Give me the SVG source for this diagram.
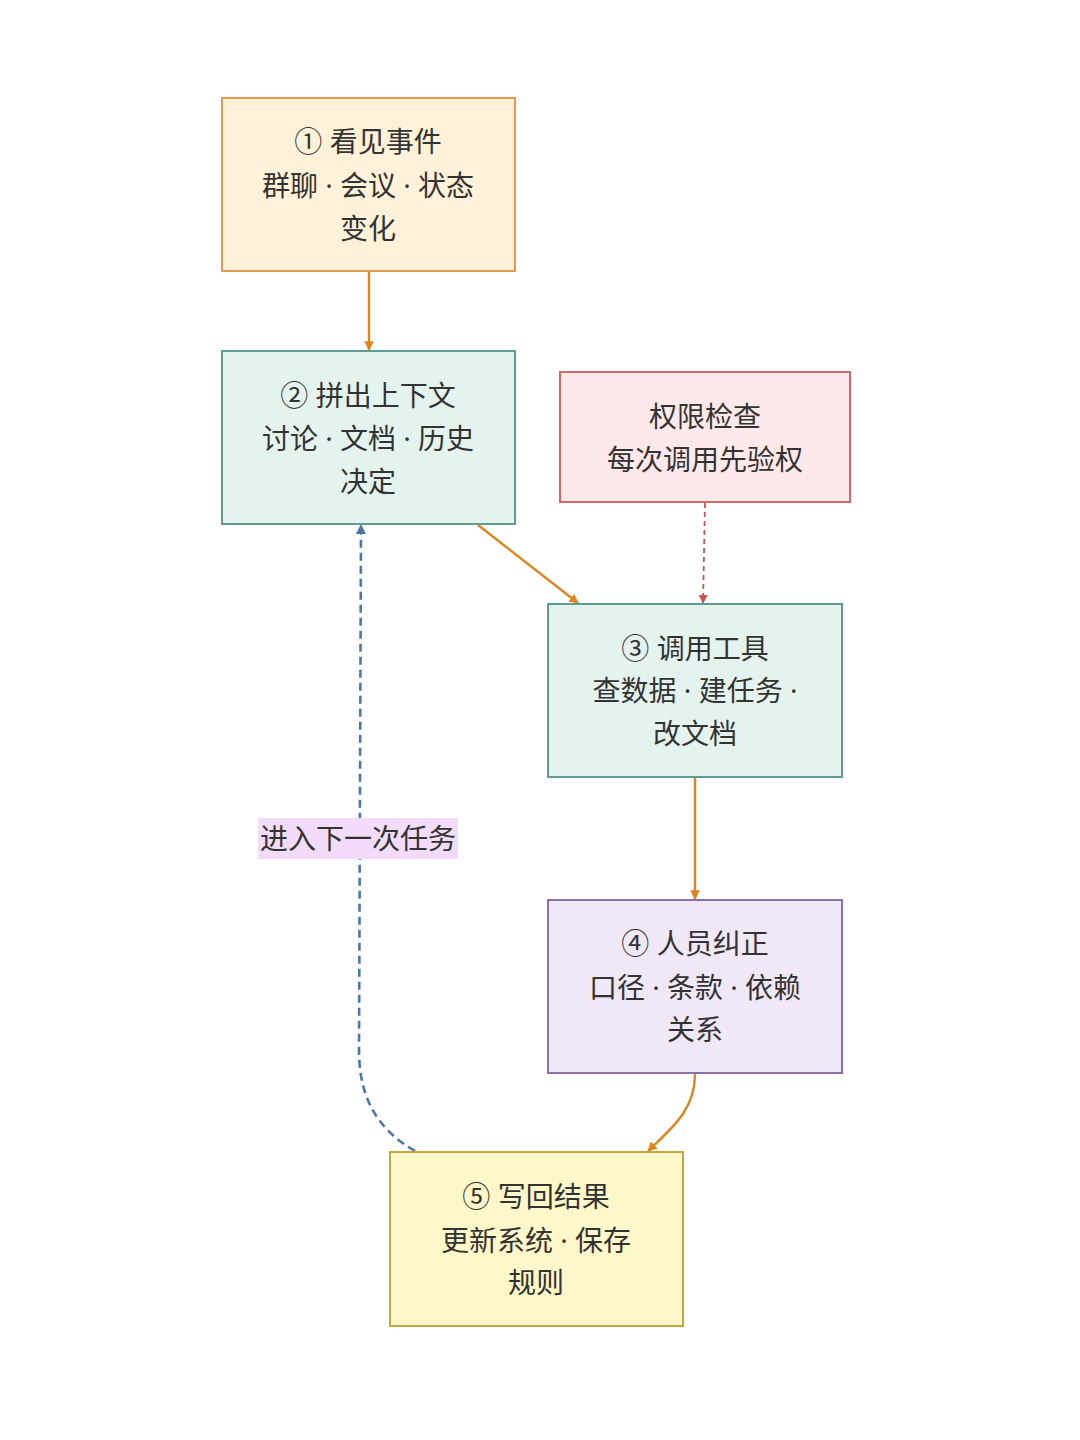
<svg xmlns="http://www.w3.org/2000/svg" width="1080" height="1440" viewBox="0 0 1080 1440">
<style>
text{font-family:"Noto Sans","Noto Sans CJK SC",sans-serif;font-size:28px;fill:#333;text-anchor:middle;dominant-baseline:central}
.box{stroke-width:2}
.orange{fill:#fff2d9;stroke:#e39a4c}
.teal{fill:#e5f3ef;stroke:#5f9c92}
.red{fill:#fde9e9;stroke:#cf6a6a}
.purple{fill:#f0e8f7;stroke:#8e6fa8}
.yellow{fill:#fef7c9;stroke:#c2a742}
.c{fill:none;stroke-width:2.4}
.co{stroke:#e0841c}
.cr{stroke:#c95656;stroke-dasharray:5 4;stroke-width:1.8}
.cb{stroke:#4e76a8;stroke-dasharray:8 5;stroke-width:2.6}
</style>
<defs>
<marker id="ao" viewBox="0 0 10 10" refX="9" refY="5" markerWidth="4" markerHeight="4" orient="auto"><path d="M0,0 L10,5 L0,10 z" fill="#e0841c"/></marker>
<marker id="ar" viewBox="0 0 10 10" refX="9" refY="5" markerWidth="5" markerHeight="5" orient="auto"><path d="M0,0 L10,5 L0,10 z" fill="#c95656"/></marker>
<marker id="ab" viewBox="0 0 10 10" refX="9" refY="5" markerWidth="4" markerHeight="4" orient="auto"><path d="M0,0 L10,5 L0,10 z" fill="#4e76a8"/></marker>
</defs>
<rect width="1080" height="1440" fill="#fff"/>
<g id="connectors">
<path class="c co" d="M369,272 L369,350" marker-end="url(#ao)"/>
<path class="c co" d="M478,525 L578,603" marker-end="url(#ao)"/>
<path class="c cr" d="M705,503 L703,603" marker-end="url(#ar)"/>
<path class="c co" d="M695,778 L695,899" marker-end="url(#ao)"/>
<path class="c co" d="M695,1074 C695,1110 672,1128 648,1151" marker-end="url(#ao)"/>
<path class="c cb" d="M415,1151 C375,1128 359,1095 359,1050 L361,525" marker-end="url(#ab)"/>
<g id="edge-label">
<rect x="258" y="818" width="200" height="41" fill="#f3dcf9"/>
<text x="358" y="838">进入下一次任务</text>
</g>
</g>
<g id="n1"><rect class="box orange" x="222" y="98" width="293" height="173"/>
<text x="368" y="141">① 看见事件</text><text x="368" y="185">群聊 · 会议 · 状态</text><text x="368" y="228">变化</text></g>
<g id="n2"><rect class="box teal" x="222" y="351" width="293" height="173"/>
<text x="368" y="395">② 拼出上下文</text><text x="368" y="438">讨论 · 文档 · 历史</text><text x="368" y="481">决定</text></g>
<g id="perm"><rect class="box red" x="560" y="372" width="290" height="130"/>
<text x="705" y="416">权限检查</text><text x="705" y="459">每次调用先验权</text></g>
<g id="n3"><rect class="box teal" x="548" y="604" width="294" height="173"/>
<text x="695" y="648">③ 调用工具</text><text x="695" y="690">查数据 · 建任务 ·</text><text x="695" y="733">改文档</text></g>
<g id="n4"><rect class="box purple" x="548" y="900" width="294" height="173"/>
<text x="695" y="943">④ 人员纠正</text><text x="695" y="987">口径 · 条款 · 依赖</text><text x="695" y="1029">关系</text></g>
<g id="n5"><rect class="box yellow" x="390" y="1152" width="293" height="174"/>
<text x="536" y="1196">⑤ 写回结果</text><text x="536" y="1240">更新系统 · 保存</text><text x="536" y="1282">规则</text></g>
</svg>
